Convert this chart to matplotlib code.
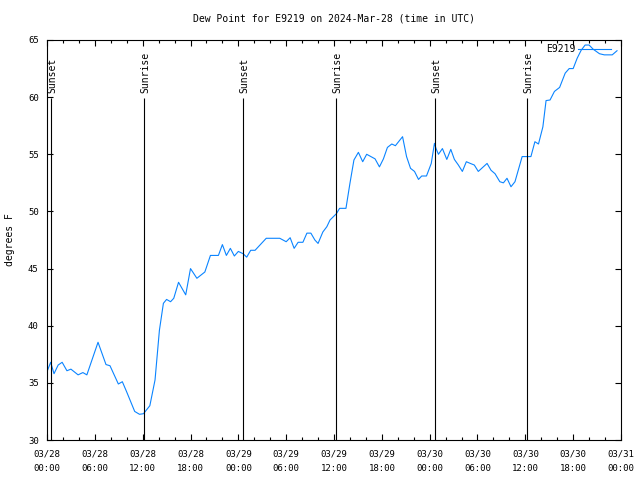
import matplotlib
matplotlib.use("Agg")
import matplotlib.pyplot as plt
from matplotlib.ticker import MultipleLocator

# hours since 2024-03-28 00:00 UTC
hours = [0.0, 0.46, 0.88, 1.4, 1.9, 2.5, 3.0, 3.9, 4.5, 5.0, 6.4, 7.4, 7.9, 8.95, 9.45,
         10.0, 11.0, 11.6, 12.1, 12.9, 13.55, 14.1, 14.6, 15.0, 15.5, 15.9, 16.5, 17.4,
         18.0, 18.8, 19.8, 20.5, 21.5, 22.0, 22.5, 23.0, 23.5, 24.0, 24.6, 25.05, 25.55,
         26.1, 27.5, 29.2, 30.0, 30.5, 31.0, 31.5, 32.1, 32.6, 33.1, 33.6, 34.0, 34.6,
         35.1, 35.5, 36.3, 36.7, 37.5, 38.0, 38.5, 39.06, 39.6, 40.1, 41.15, 41.7, 42.2,
         42.7, 43.25, 43.7, 44.6, 45.1, 45.6, 46.1, 46.6, 47.0, 47.6, 48.2, 48.6, 48.8,
         49.1, 49.6, 50.15, 50.65, 51.1, 51.6, 52.1, 52.6, 53.1, 53.6, 54.1, 55.2, 55.7,
         56.2, 56.8, 57.25, 57.7, 58.2, 58.7, 59.6, 60.7, 61.2, 61.65, 62.2, 62.6, 63.1,
         63.65, 64.3, 65.0, 65.5, 66.0, 66.5, 67.0, 67.5, 68.0, 68.5, 69.3, 69.9, 70.9,
         71.5]
dewpoint = [35.98, 36.8, 35.8, 36.56, 36.8, 36.06, 36.2, 35.7, 35.9, 35.7, 38.55, 36.6,
            36.5, 34.9, 35.1, 34.2, 32.5, 32.25, 32.3, 33.0, 35.25, 39.6, 41.96, 42.3,
            42.1, 42.4, 43.8, 42.7, 45.0, 44.15, 44.7, 46.15, 46.15, 47.1, 46.15, 46.77,
            46.1, 46.5, 46.3, 46.0, 46.6, 46.6, 47.65, 47.65, 47.35, 47.7, 46.77, 47.3,
            47.3, 48.1, 48.1, 47.5, 47.2, 48.2, 48.66, 49.25, 49.8, 50.27, 50.27, 52.46,
            54.5, 55.17, 54.35, 55.0, 54.6, 53.9, 54.6, 55.6, 55.9, 55.75, 56.54, 54.8,
            53.77, 53.5, 52.8, 53.1, 53.1, 54.2, 55.96, 55.5, 55.0, 55.5, 54.55, 55.43,
            54.55, 54.06, 53.5, 54.35, 54.2, 54.06, 53.5, 54.2, 53.6, 53.3, 52.6, 52.5,
            52.9, 52.16, 52.6, 54.8, 54.8, 56.1, 55.9, 57.4, 59.7, 59.75, 60.5, 60.85,
            62.1, 62.5, 62.5, 63.4, 64.1, 64.56, 64.56, 64.2, 63.8, 63.7, 63.7, 64.06]

sunset_hours = [0.5, 24.63, 48.72]
sunrise_hours = [12.17, 36.26, 60.27]

tick_hours = list(range(0, 73, 6))
tick_labels = ["03/28\n00:00", "03/28\n06:00", "03/28\n12:00", "03/28\n18:00",
               "03/29\n00:00", "03/29\n06:00", "03/29\n12:00", "03/29\n18:00",
               "03/30\n00:00", "03/30\n06:00", "03/30\n12:00", "03/30\n18:00",
               "03/31\n00:00"]

plt.rcParams["font.family"] = "DejaVu Sans Mono"

fig = plt.figure(figsize=(6.4, 4.8), dpi=100)
ax = fig.add_axes([47 / 640, 40 / 480, 574 / 640, 400 / 480])

ax.plot(hours, dewpoint, color="#0a84ff", lw=0.8, label="E9219")

for h in sunset_hours:
    ax.vlines(h, 30, 59.9, color="black", lw=0.8)
    ax.text(h + 0.15, 60.4, "Sunset", rotation=90, ha="center", va="bottom", fontsize=7)
for h in sunrise_hours:
    ax.vlines(h, 30, 59.9, color="black", lw=0.8)
    ax.text(h + 0.15, 60.4, "Sunrise", rotation=90, ha="center", va="bottom", fontsize=7)

ax.set_xlim(0, 72)
ax.set_ylim(30, 65)
ax.set_xticks(tick_hours)
ax.set_xticklabels(tick_labels, fontsize=6.5, linespacing=1.7)
ax.xaxis.set_minor_locator(MultipleLocator(2))
ax.yaxis.set_major_locator(MultipleLocator(5))
ax.tick_params(axis="y", labelsize=6.5, pad=6)
ax.tick_params(axis="x", pad=7)
ax.tick_params(which="both", direction="in", top=True, right=True, width=0.8)
ax.tick_params(which="major", length=4)
ax.tick_params(which="minor", length=2)
for s in ax.spines.values():
    s.set_linewidth(0.8)

ax.set_ylabel("degrees F", fontsize=7, labelpad=9)
ax.set_title("Dew Point for E9219 on 2024-Mar-28 (time in UTC)", fontsize=7, pad=13)
ax.legend(loc="upper right", bbox_to_anchor=(0.988, 0.9975), frameon=False,
          markerfirst=False, fontsize=7, handlelength=3.4, borderaxespad=0,
          handletextpad=0.3, borderpad=0.3)

fig.savefig("out.png", dpi=100)
